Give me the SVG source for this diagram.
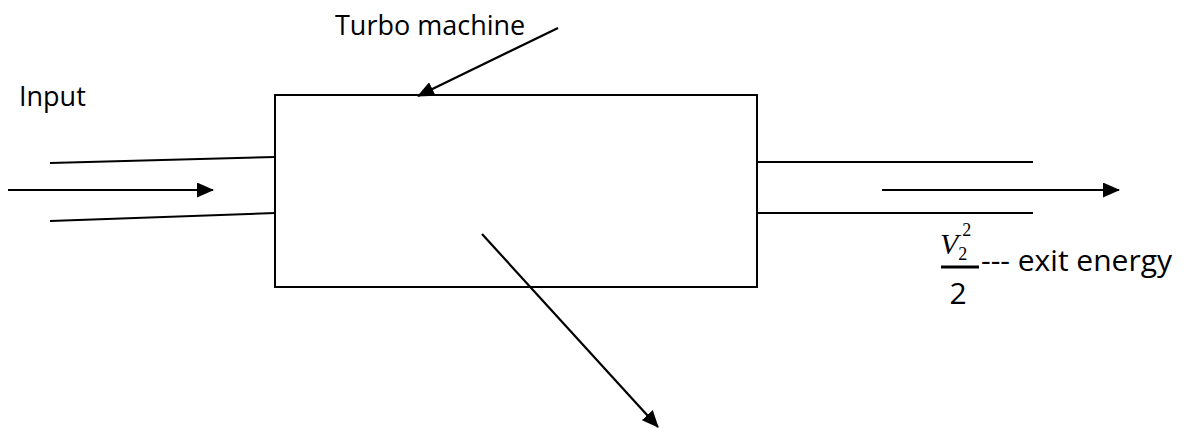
<svg xmlns="http://www.w3.org/2000/svg" width="1189" height="428" viewBox="0 0 1189 428">
<defs>
<marker id="ah" markerWidth="17" markerHeight="15" refX="16" refY="7.5" orient="auto" markerUnits="userSpaceOnUse" viewBox="0 0 17 15">
<path d="M0,0 L17,7.5 L0,15 z" fill="#000"/>
</marker>
<style>
.ln{stroke:#000;stroke-width:2;fill:none}
.ar{stroke:#000;stroke-width:2.2;fill:none;marker-end:url(#ah)}
.t{font-family:"Open Sans","Liberation Sans",sans-serif;font-size:27px;fill:#000}
.mi{font-family:"Liberation Serif",serif;font-style:italic;font-size:30px;fill:#000}
.ms{font-family:"Liberation Serif",serif;font-style:normal;font-size:18px}
</style>
</defs>
<rect width="1189" height="428" fill="#fff"/>
<g id="machine">
<rect x="275" y="95" width="482" height="192" class="ln"/>
</g>
<g id="inlet">
<line x1="50" y1="163" x2="275" y2="157" class="ln"/>
<line x1="50" y1="221" x2="275" y2="213" class="ln"/>
</g>
<g id="outlet">
<line x1="757" y1="162" x2="1033" y2="162" class="ln"/>
<line x1="757" y1="213" x2="1033" y2="213" class="ln"/>
</g>
<g id="labels">
<text x="19" y="106" class="t">Input</text>
<text x="335" y="35" class="t">Turbo machine</text>
<g id="exit-energy">
<text x="940" y="254" class="mi">V<tspan class="ms" dx="0" dy="6">2</tspan><tspan class="ms" dx="-5" dy="-24">2</tspan></text>
<line x1="941" y1="267" x2="979" y2="267" stroke="#000" stroke-width="3"/>
<text x="958" y="304" class="t" style="font-size:30px" text-anchor="middle">2</text>
<text x="981" y="271" class="t" style="font-size:30px">--- exit energy</text>
</g>
</g>
<g id="connectors">
<line x1="8" y1="190" x2="213" y2="190" class="ar"/>
<line x1="882" y1="190" x2="1119" y2="190" class="ar"/>
<line x1="558" y1="28" x2="418" y2="96" class="ar"/>
<line x1="482" y1="234" x2="658" y2="427" class="ar"/>
</g>
</svg>
